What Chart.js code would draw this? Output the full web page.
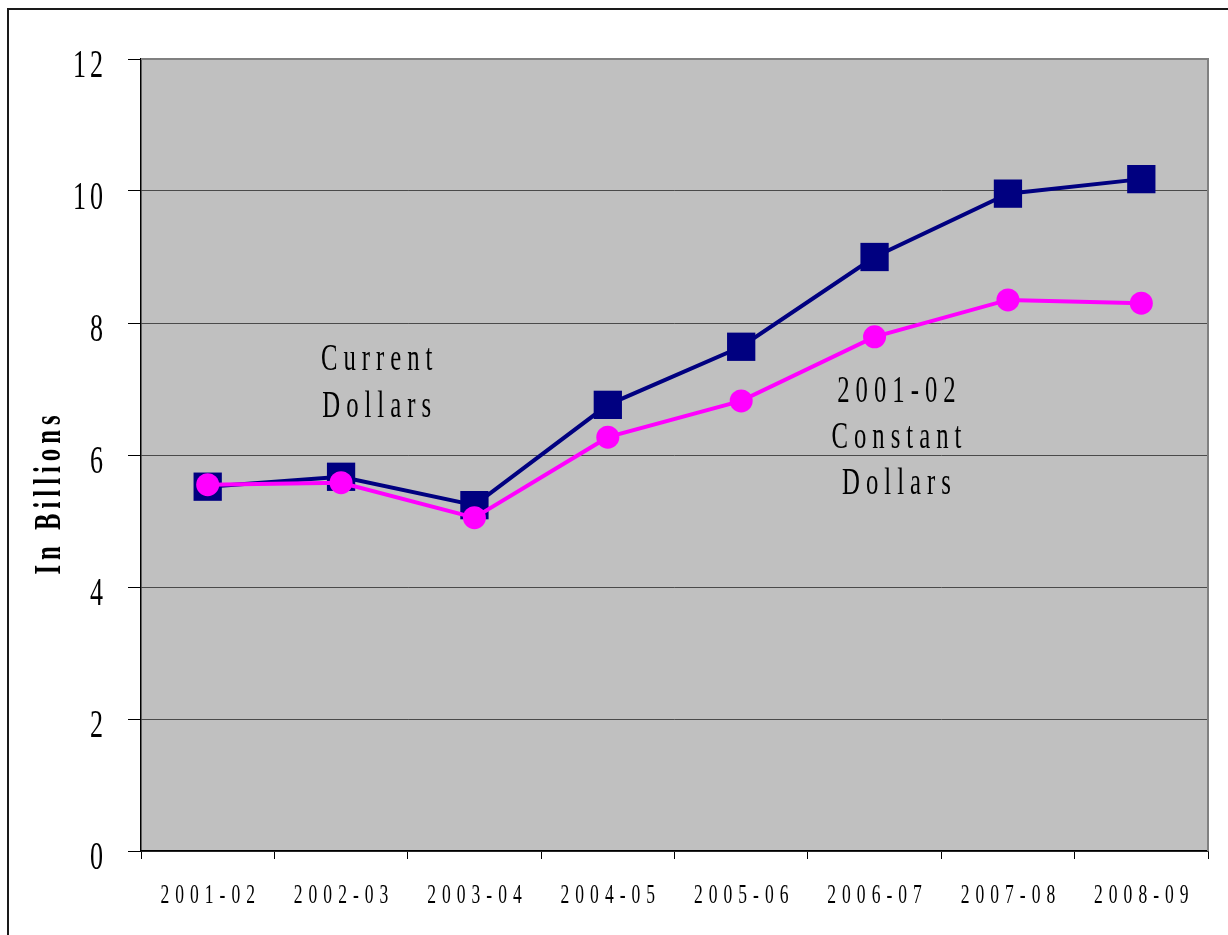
<!DOCTYPE html>
<html>
<head>
<meta charset="utf-8">
<script src="https://cdn.jsdelivr.net/npm/chart.js@4"></script>
<style>
  html, body { margin: 0; padding: 0; background: #fff; }
  canvas { display: block; }
</style>
</head>
<body>
<canvas id="grafica" width="1228" height="935"></canvas>
<script>
// datos (miles de millones)
const categorias = ["2001-02", "2002-03", "2003-04", "2004-05", "2005-06", "2006-07", "2007-08", "2008-09"];
const dolaresCorrientes = [5.52, 5.67, 5.24, 6.76, 7.64, 9.00, 9.96, 10.18];
const dolaresConstantes = [5.55, 5.58, 5.05, 6.27, 6.82, 7.79, 8.35, 8.30];
const marcasEjeY = [0, 2, 4, 6, 8, 10, 12];
const tituloEjeY = "In Billions";
const etiquetaCorrientes = ["Current", "Dollars"];
const etiquetaConstantes = ["2001-02", "Constant", "Dollars"];

const FUENTE = '"Liberation Serif", "Times New Roman", serif';
const ESTRECHEZ = 0.65; // la letra del original es muy estrecha

function dibujarTexto(ctx, texto, x, y, fuente, alinear, espaciado, angulo) {
  ctx.save();
  ctx.font = fuente;
  ctx.textBaseline = "alphabetic";
  ctx.textAlign = "left";
  ctx.fillStyle = "#000";
  const letras = Array.from(texto);
  const anchos = letras.map(c => ctx.measureText(c).width * ESTRECHEZ);
  const total = anchos.reduce((a, b) => a + b, 0) + espaciado * (letras.length - 1);
  let inicio = alinear === "center" ? -total / 2 : alinear === "right" ? -total : 0;
  ctx.translate(x, y);
  if (angulo) ctx.rotate(angulo);
  letras.forEach(function (c, i) {
    ctx.save();
    ctx.translate(inicio, 0);
    ctx.scale(ESTRECHEZ, 1);
    ctx.fillText(c, 0, 0);
    ctx.restore();
    inicio += anchos[i] + espaciado;
  });
  ctx.restore();
}

const fondoYMarco = {
  id: "fondoYMarco",
  beforeDraw(chart) {
    const ctx = chart.ctx;
    const a = chart.chartArea;
    ctx.save();
    // marco exterior (solo se ven izquierda y arriba)
    ctx.strokeStyle = "#1a1a1a";
    ctx.lineWidth = 2;
    ctx.beginPath();
    ctx.moveTo(8, chart.height + 5);
    ctx.lineTo(8, 9);
    ctx.lineTo(chart.width + 5, 9);
    ctx.stroke();
    // fondo gris del area de trazado
    ctx.fillStyle = "#c0c0c0";
    ctx.fillRect(a.left, a.top, a.right - a.left, a.bottom - a.top);
    ctx.restore();
  },
  beforeDatasetsDraw(chart) {
    const ctx = chart.ctx;
    const a = chart.chartArea;
    ctx.save();
    ctx.strokeStyle = "#808080";
    ctx.lineWidth = 2;
    ctx.beginPath();
    ctx.moveTo(a.left, a.top);
    ctx.lineTo(a.right, a.top);
    ctx.lineTo(a.right, a.bottom);
    ctx.stroke();
    ctx.restore();
  }
};

const textos = {
  id: "textos",
  afterDraw(chart) {
    const ctx = chart.ctx;
    const a = chart.chartArea;
    const ejeX = chart.scales.x;
    const ejeY = chart.scales.y;

    // etiquetas del eje Y
    ejeY.ticks.forEach(function (t, i) {
      const y = ejeY.getPixelForTick(i);
      dibujarTexto(ctx, String(t.value), a.left - 38, y + 18, "40px " + FUENTE, "right", 4);
    });

    // etiquetas del eje X
    categorias.forEach(function (c, i) {
      const x = ejeX.getPixelForValue(i);
      dibujarTexto(ctx, c, x, a.bottom + 52, "27px " + FUENTE, "center", 6);
    });

    // titulo del eje Y
    dibujarTexto(ctx, tituloEjeY, 60, (a.top + a.bottom) / 2 + 40, "bold 38px " + FUENTE, "center", 5, -Math.PI / 2);

    // rotulos de las series
    const xCorr = ejeX.getPixelForValue(1.267);
    const yCorr = ejeY.getPixelForValue(7.29);
    etiquetaCorrientes.forEach(function (linea, i) {
      dibujarTexto(ctx, linea, xCorr, yCorr + i * 47, "38px " + FUENTE, "center", 6);
    });
    const xCons = ejeX.getPixelForValue(5.164);
    const yCons = ejeY.getPixelForValue(6.80);
    etiquetaConstantes.forEach(function (linea, i) {
      dibujarTexto(ctx, linea, xCons, yCons + i * 46, "38px " + FUENTE, "center", 6);
    });
  }
};

const ctx = document.getElementById("grafica").getContext("2d");
new Chart(ctx, {
  type: "line",
  data: {
    labels: categorias,
    datasets: [
      {
        label: "2001-02 Constant Dollars",
        data: dolaresConstantes,
        borderColor: "#ff00ff",
        backgroundColor: "#ff00ff",
        borderWidth: 4,
        pointStyle: "circle",
        pointRadius: 11.5,
        pointHoverRadius: 11.5,
        pointBorderWidth: 0,
        pointBackgroundColor: "#ff00ff",
        fill: false,
        tension: 0
      },
      {
        label: "Current Dollars",
        data: dolaresCorrientes,
        borderColor: "#000080",
        backgroundColor: "#000080",
        borderWidth: 4,
        pointStyle: "rect",
        pointRadius: 20,
        pointHoverRadius: 20,
        pointBorderWidth: 0,
        pointBackgroundColor: "#000080",
        fill: false,
        tension: 0
      }
    ]
  },
  options: {
    responsive: false,
    animation: false,
    devicePixelRatio: 1,
    layout: { padding: { left: 0, top: 59, right: 20, bottom: 0 } },
    plugins: {
      legend: { display: false },
      tooltip: { enabled: false },
      title: { display: false }
    },
    scales: {
      x: {
        type: "category",
        offset: true,
        ticks: { display: false },
        grid: {
          offset: true,
          drawOnChartArea: false,
          drawTicks: true,
          tickLength: 8,
          tickColor: "#000",
          tickWidth: 1
        },
        border: { display: true, color: "#000", width: 1.5 },
        afterFit: function (eje) { eje.height = 84; }
      },
      y: {
        min: 0,
        max: 12,
        afterBuildTicks: function (eje) {
          eje.ticks = marcasEjeY.map(v => ({ value: v }));
        },
        ticks: { display: false, stepSize: 2 },
        grid: {
          color: "#4a4a4a",
          lineWidth: 1,
          drawTicks: true,
          tickLength: 13,
          tickColor: "#000",
          tickWidth: 1
        },
        border: { display: true, color: "#000", width: 1.5 },
        afterFit: function (eje) { eje.width = 141; }
      }
    }
  },
  plugins: [fondoYMarco, textos]
});
</script>
</body>
</html>
